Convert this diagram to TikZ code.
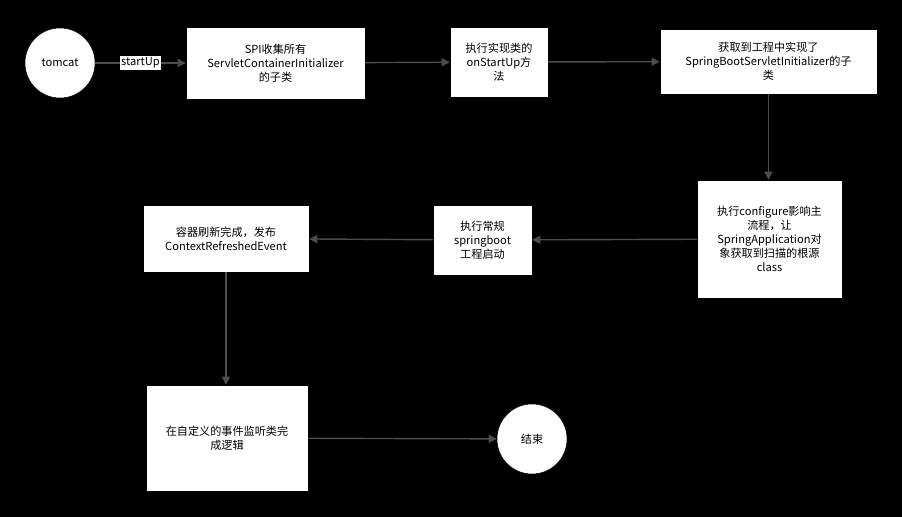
\documentclass[tikz,border=0pt]{standalone}
\usepackage{fontspec}
\setmainfont{Noto Sans CJK SC}
\usetikzlibrary{arrows.meta}
\tikzset{
  stepbox/.style={draw=black, fill=white, align=center, font=\fontsize{9.5}{12}\selectfont, inner sep=1pt},
  endpt/.style={circle, draw=black, fill=white, minimum size=2.1cm, font=\fontsize{9.5}{12}\selectfont},
  flow/.style={draw=black!70, line width=1.2pt, -{Triangle[length=7pt,width=7pt]}}
}
\begin{document}
\begin{tikzpicture}[x=0.03cm, y=-0.03cm]
  % Hintergrund
  \fill[black] (0,0) rectangle (902,517);
  \useasboundingbox (0,0) rectangle (902,517);

  % Knoten
  \node[endpt] (tomcat) at (60,63) {tomcat};
  \node[stepbox, minimum width=5.37cm, minimum height=2.16cm] (spi) at (275.5,63) {SPI收集所有\\ServletContainerInitializer\\的子类};
  \node[stepbox, minimum width=2.94cm, minimum height=2.1cm] (onstart) at (499,62) {执行实现类的\\onStartUp方\\法};
  \node[stepbox, minimum width=6.51cm, minimum height=1.95cm] (sub) at (768.5,61.5) {获取到工程中实现了\\SpringBootServletInitializer的子\\类};
  \node[stepbox, minimum width=4.35cm, minimum height=3.54cm] (conf) at (769.5,239) {执行configure影响主\\流程，让\\SpringApplication对\\象获取到扫描的根源\\class};
  \node[stepbox, minimum width=2.97cm, minimum height=2.1cm] (boot) at (482.5,240) {执行常规\\springboot\\工程启动};
  \node[stepbox, minimum width=4.98cm, minimum height=2.01cm] (refresh) at (226,238.5) {容器刷新完成，发布\\ContextRefreshedEvent};
  \node[stepbox, minimum width=4.86cm, minimum height=3.18cm] (listen) at (227,438) {在自定义的事件监听类完\\成逻辑};
  \node[endpt] (stop) at (532,439) {结束};

  % Verbindungen
  \draw[flow] (tomcat) -- node[fill=white, inner sep=1pt, font=\fontsize{9.5}{12}\selectfont] {startUp} (spi);
  \draw[flow] (spi) -- (onstart);
  \draw[flow] (onstart) -- (sub);
  \draw[flow] (sub) -- (sub.south |- conf.north);
  \draw[flow] (conf) -- (boot);
  \draw[flow] (boot) -- (refresh);
  \draw[flow] (refresh) -- (refresh.south |- listen.north);
  \draw[flow] (listen) -- (stop);
\end{tikzpicture}
\end{document}
